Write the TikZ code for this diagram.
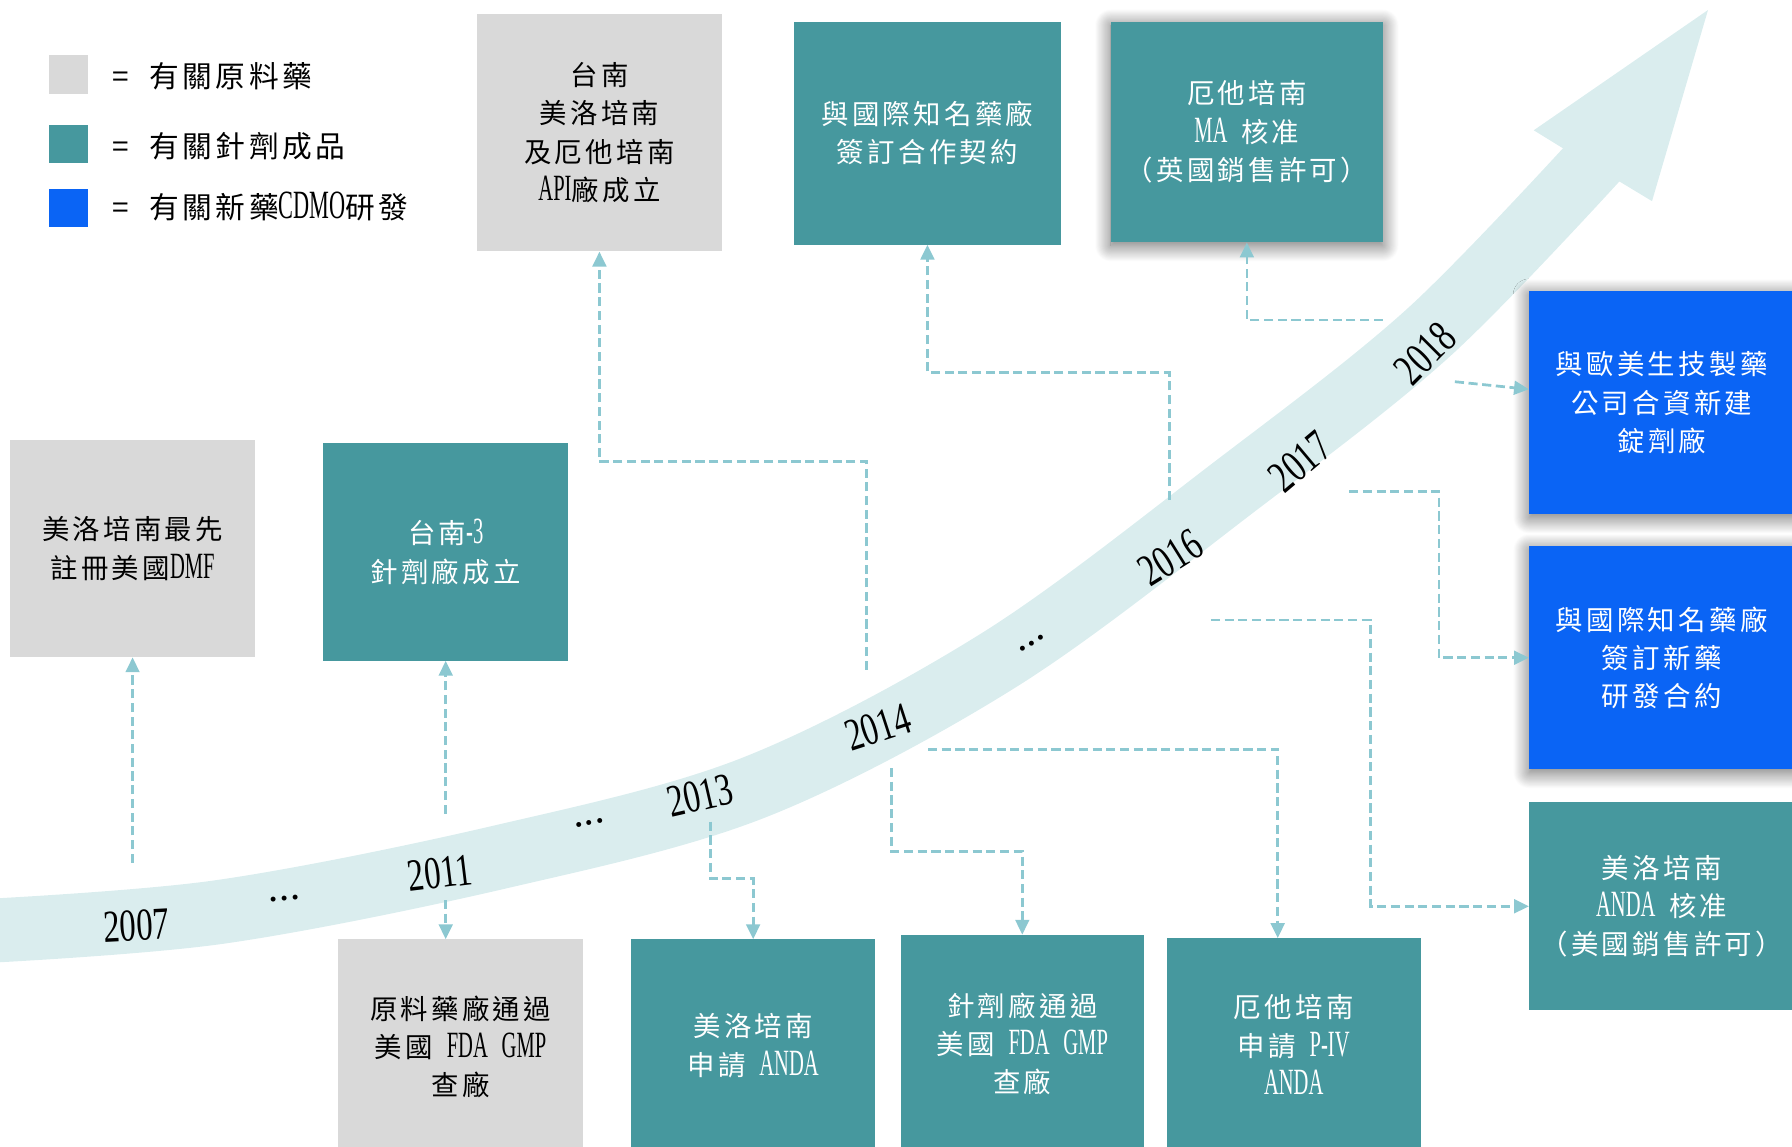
\documentclass[tikz,border=0pt]{standalone}
\usepackage{fontspec}
\usepackage{tikz}
\usetikzlibrary{arrows.meta,shadows.blur}
\newfontfamily\cjk[LetterSpace=12]{Noto Sans CJK TC}
\newfontfamily\latinfont{Liberation Serif}
\newcommand{\ltn}[1]{\scalebox{0.75}[1.35]{\latinfont #1}}
\newcommand{\yr}[1]{\scalebox{0.72}[1]{\latinfont #1}}

\definecolor{tealbox}{HTML}{46989E}
\definecolor{graybox}{HTML}{D9D9D9}
\definecolor{bluebox}{HTML}{0A64F5}
\definecolor{bandcol}{HTML}{DAEDEE}
\definecolor{linkcol}{HTML}{8CC8D1}

\begin{document}
\begin{tikzpicture}[x=1pt,y=-1pt]
            \tikzstyle{box}=[inner sep=0pt, align=center, font=\cjk\fontsize{24}{33.5}\selectfont]
            \tikzstyle{rawbox}=[box, fill=graybox, text=black]
            \tikzstyle{injbox}=[box, fill=tealbox, text=white]
            \tikzstyle{newbox}=[box, fill=bluebox, text=white]
            \tikzstyle{glow}=[blur shadow={shadow xshift=0pt, shadow yshift=-3pt, shadow blur radius=14pt, shadow blur steps=30, shadow opacity=60}]
            \tikzstyle{link}=[draw=linkcol, line width=2.4pt, dash pattern=on 8pt off 4pt, -{Triangle[length=13pt,width=12pt]}]
            \tikzstyle{year}=[inner sep=0pt, font=\fontsize{40}{40}\selectfont]
            \tikzstyle{gap}=[inner sep=0pt, font=\bfseries\fontsize{30}{30}\selectfont]
            \tikzstyle{legtext}=[anchor=west, inner sep=0pt, font=\cjk\fontsize{26}{26}\selectfont]
            \useasboundingbox (0,0) rectangle (1568,1003);

            % timeline band
            \draw[bandcol, line width=56pt] plot[smooth, tension=0.55] coordinates {(-20,815) (192,798) (437,750) (660,689) (875,577) (1080,426) (1250,291) (1398,138)};
            \fill[bandcol] (1368,130) -- (1342,114) -- (1494.5,8.75) -- (1445.5,176) -- (1419,160) -- cycle;

            \node[year, rotate=3] (y07) at (119.5,810) {\yr{2007}};
            \node[gap, rotate=5] (g1) at (249,786) {...};
            \node[year, rotate=7] (y11) at (385,764) {\yr{2011}};
            \node[gap, rotate=12] (g2) at (516,720) {...};
            \node[year, rotate=13] (y13) at (612.5,696) {\yr{2013}};
            \node[year, rotate=18] (y14) at (768,636) {\yr{2014}};
            \node[gap, rotate=30] (g3) at (903,563) {...};
            \node[year, rotate=32] (y16) at (1024,488) {\yr{2016}};
            \node[year, rotate=40] (y17) at (1137.5,404) {\yr{2017}};
            \node[year, rotate=45] (y18) at (1247,309) {\yr{2018}};

            % legend
            \node[rawbox, minimum size=34pt] (lgraw) at (60,65) {};
            \node[injbox, minimum size=34pt] (lginj) at (60,126) {};
            \node[newbox, minimum size=34pt] (lgnew) at (60,182) {};
            \node[legtext] (ltraw) at (98,67) {=\hspace{18pt}有關原料藥};
            \node[legtext] (ltinj) at (98,128) {=\hspace{18pt}有關針劑成品};
            \node[legtext] (ltnew) at (98,181) {=\hspace{18pt}有關新藥\ltn{CDMO}研發};

            % milestones
            \node[rawbox, minimum width=215pt, minimum height=208pt] (api) at (524.5,116) {台南\\美洛培南\\及厄他培南\\\ltn{API}廠成立};
            \node[injbox, minimum width=233pt, minimum height=195pt] (coop) at (811.5,116.5) {與國際知名藥廠\\簽訂合作契約};
            \node[injbox, glow, minimum width=238pt, minimum height=193pt] (ma) at (1091,115.5) {厄他培南\\\ltn{MA}\enspace 核准\\（英國銷售許可）};
            \node[rawbox, minimum width=214pt, minimum height=190pt] (dmf) at (116,480) {美洛培南最先\\註冊美國\ltn{DMF}};
            \node[injbox, minimum width=214pt, minimum height=190pt] (inj3) at (390,483) {台南\ltn{-3}\\針劑廠成立};
            \node[newbox, glow, minimum width=232pt, minimum height=195pt] (jv) at (1454,352.5) {與歐美生技製藥\\公司合資新建\\錠劑廠};
            \node[newbox, glow, minimum width=232pt, minimum height=195pt] (rnd) at (1454,575.5) {與國際知名藥廠\\簽訂新藥\\研發合約};
            \node[injbox, minimum width=232pt, minimum height=182pt] (anda) at (1454,793) {美洛培南\\\ltn{ANDA}\enspace 核准\\（美國銷售許可）};
            \node[rawbox, minimum width=214pt, minimum height=188pt] (apigmp) at (403,916) {原料藥廠通過\\美國\enspace\ltn{FDA}\enspace\ltn{GMP}\\查廠};
            \node[injbox, minimum width=214pt, minimum height=186pt] (andaapp) at (659,915) {美洛培南\\申請\enspace\ltn{ANDA}};
            \node[injbox, minimum width=213pt, minimum height=191pt] (injgmp) at (894.5,913.5) {針劑廠通過\\美國\enspace\ltn{FDA}\enspace\ltn{GMP}\\查廠};
            \node[injbox, minimum width=222pt, minimum height=186pt] (piv) at (1132,914) {厄他培南\\申請\enspace\ltn{P-IV}\\\ltn{ANDA}};

            % connectors
            \coordinate (c07) at (116,755);
            \coordinate (c11u) at (390,712);
            \coordinate (c11d) at (390,787.5);
            \coordinate (c13d) at (622,719);
            \coordinate (c14u) at (758.5,586);
            \coordinate (c14d) at (780,672);
            \coordinate (c14r) at (812,655.5);
            \coordinate (c16u) at (1023,437.5);
            \coordinate (c16r) at (1059.5,542.5);
            \coordinate (c17r) at (1180.5,430);
            \coordinate (c18u) at (1210,280);
            \coordinate (c18r) at (1273,334);

            \draw[link] (c07) -- (dmf);
            \draw[link] (c11u) -- (inj3);
            \draw[link] (c11d) -- (c11d |- apigmp.north);
            \draw[link] (c13d) -- ++(0,50) -| (andaapp);
            \draw[link] (c14u) -- ++(0,-182) -| (api);
            \draw[link] (c14d) -- ++(0,73) -| (injgmp);
            \draw[link] (c14r) -| ([xshift=-14pt]piv.north);
            \draw[link] (c16u) -- ++(0,-111.5) -| (coop);
            \draw[link] (c16r) -- ++(139.5,0) |- (anda);
            \draw[link] (c17r) -- ++(78.5,0) |- (rnd);
            \draw[link] (c18u) -| (ma);
            \draw[link] (c18r) -- (jv);
\end{tikzpicture}
\end{document}
